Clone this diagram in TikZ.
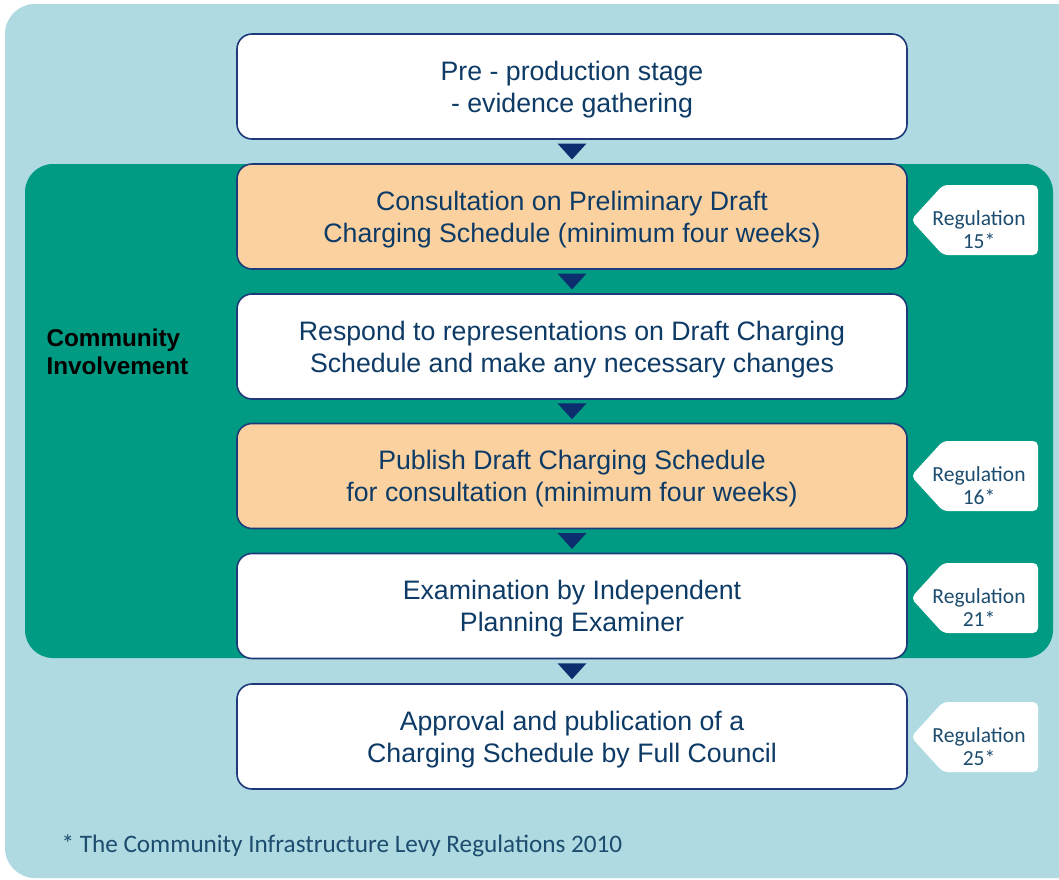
\documentclass[tikz,border=0pt]{standalone}
\usepackage{fontspec}
\setmainfont{Liberation Sans}
\newfontfamily\regfont{Carlito}
\usetikzlibrary{calc}
\definecolor{bgblue}{HTML}{AFDAE2}
\definecolor{involve}{HTML}{009B82}
\definecolor{consultorange}{HTML}{FBD29F}
\definecolor{boxline}{HTML}{1F3A7A}
\definecolor{arrowblue}{HTML}{0D2E6E}
\definecolor{stagetext}{HTML}{0E3B66}
\definecolor{regtext}{HTML}{1C4C6E}

\begin{document}
\begin{tikzpicture}[x=1pt,y=-1pt]
  \tikzstyle{Stage}=[draw=boxline,line width=1.6pt,rounded corners=15pt,fill=white,
                     minimum width=670pt,minimum height=105pt,align=center,
                     text=stagetext,font=\fontsize{26.7}{32}\selectfont,text depth=-0.5pt]
  \tikzstyle{Consult}=[Stage,fill=consultorange]
  \tikzstyle{RegText}=[text=regtext,align=center,font=\regfont\fontsize{21.5}{23}\selectfont]
  \useasboundingbox (0,0) rectangle (1059,879);
  \fill[white] (0,0) rectangle (1059,879);
  \fill[bgblue,rounded corners=30pt] (5,4) rectangle (1100,878);
  \fill[involve,rounded corners=28pt] (25,164) rectangle (1053,658);
  \node[anchor=west,align=left,font=\bfseries\fontsize{24.3}{28}\selectfont] (comm) at (43,352) {Community\\Involvement};
  % stages
  \node[Stage] (pre) at (572,86.5) {Pre - production stage\\- evidence gathering};
  \node[Consult] (pdcs) at (572,216.5) {Consultation on Preliminary Draft\\Charging Schedule (minimum four weeks)};
  \node[Stage] (resp) at (572,346.5) {Respond to representations on Draft Charging\\Schedule and make any necessary changes};
  \node[Consult] (dcs) at (572,476) {Publish Draft Charging Schedule\\for consultation (minimum four weeks)};
  \node[Stage] (exam) at (572,606) {Examination by Independent\\Planning Examiner};
  \node[Stage] (adopt) at (572,736.5) {Approval and publication of a\\Charging Schedule by Full Council};
  \foreach \a/\b in {pre/pdcs,pdcs/resp,resp/dcs,dcs/exam,exam/adopt}{
    \path (\a.south) -- (\b.north) coordinate[midway] (m\a);
    \fill[arrowblue] ($(m\a)+(-14.5,-8)$) -- ($(m\a)+(14.5,-8)$) -- ($(m\a)+(0,8)$) -- cycle;
  }
  % regulation tags
  \foreach \y/\n in {220/15,476/16,598/21,737/25}{
    \fill[white,rounded corners=5pt] (911,\y) -- (943,\y-35) -- (1038,\y-35) -- (1038,\y+35) -- (943,\y+35) -- cycle;
    \node[RegText] (reg\n) at (979,\y+9.5) {Regulation\\\n*};
  }
  \node[anchor=west,text=regtext,font=\regfont\fontsize{25.2}{28}\selectfont] (note) at (58,846) {* The Community Infrastructure Levy Regulations 2010};
\end{tikzpicture}
\end{document}
